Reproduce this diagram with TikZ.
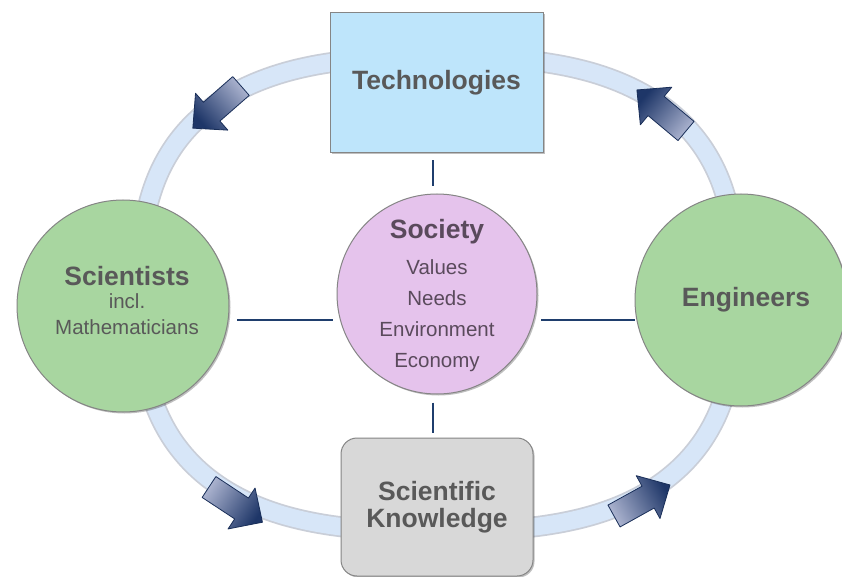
\documentclass[tikz,border=0pt]{standalone}
\usepackage{fontspec}
\setmainfont{Liberation Sans}
\usetikzlibrary{shadows}
\definecolor{techblue}{HTML}{BEE5FB}
\definecolor{skgray}{HTML}{D8D8D8}
\definecolor{greenfill}{HTML}{A8D6A0}
\definecolor{socpurple}{HTML}{E5C3EC}
\definecolor{txtgray}{HTML}{595959}
\definecolor{soctxt}{HTML}{5A4A5C}
\definecolor{navy}{HTML}{1F3E6D}
\definecolor{ringfill}{HTML}{D7E6F8}
\definecolor{ringedge}{HTML}{C9CED8}
\definecolor{edgegray}{HTML}{858585}
\definecolor{arrowlight}{HTML}{ABB3CF}
\definecolor{arrowdark}{HTML}{1E3668}
\tikzset{
  shp/.style={draw=edgegray, line width=1pt, drop shadow={shadow xshift=1.5pt, shadow yshift=-1.5pt, opacity=0.25, fill=black}},
  circ/.style={circle, shp, inner sep=0pt, minimum size=#1},
  title/.style={text=txtgray, font=\fontsize{26.5}{27.5}\selectfont\bfseries, align=center},
  sub/.style={font=\fontsize{20.5}{26}\selectfont, align=center},
  conn/.style={draw=navy, line width=2.8pt},
  arrowbody/.style={left color=arrowlight, right color=arrowdark, draw=arrowdark!85!black, line width=0.8pt, line join=round}
}
\newcommand\blockarr[3]{%
  \pgfmathsetmacro\shang{#3+90}%
  \begin{scope}[shift={(#1,#2)}, rotate=#3]
    \shade[arrowbody, shading angle=\shang] (0pt,-12.5pt) -- (39pt,-12.5pt) -- (39pt,-24.5pt) -- (64pt,0pt) -- (39pt,24.5pt) -- (39pt,12.5pt) -- (0pt,12.5pt) -- cycle;
  \end{scope}}
\begin{document}
\begin{tikzpicture}[x=1pt,y=-1pt]
\useasboundingbox (0,0) rectangle (842,577);
\fill[white] (0,0) rectangle (842,577);
% ring (superellipse)
\path[save path=\ringp] plot[domain=0.5:360.5, samples=181, smooth cycle, variable=\t]
  ({438 + 298*sign(cos(\t))*pow(abs(cos(\t)),0.7407)}, {294 + 237*sign(sin(\t))*pow(abs(sin(\t)),0.7407)});
\draw[use path=\ringp, ringedge, line width=21pt];
\draw[use path=\ringp, ringfill, line width=17.5pt];
% arrows
\blockarr{241}{86}{221.2}
\blockarr{686}{131}{140.1}
\blockarr{209}{487}{-33.4}
\blockarr{614}{516}{29}
% circles
\node[circ=212pt, fill=greenfill] (sci) at (123,306) {};
\node[title] (scit) at (127,276) {Scientists};
\node[sub, text=txtgray] (scis) at (127,314) {incl.\\Mathematicians};
\node[circ=212pt, fill=greenfill] (eng) at (741,300) {};
\node[title] (engt) at (746,300) {Engineers};
\node[circ=200pt, fill=socpurple] (soc) at (437,294) {};
\node[title, text=soctxt] (soct) at (437,232) {Society};
\node[sub, text=soctxt, font=\fontsize{20.5}{31}\selectfont] (socs) at (437,316) {Values\\Needs\\Environment\\Economy};
% boxes
\node[shp, fill=techblue, minimum width=213pt, minimum height=140pt, inner sep=0pt, title] (tech) at (436.5,83) {Technologies};
\node[shp, fill=skgray, rounded corners=16pt, minimum width=192pt, minimum height=138pt, inner sep=0pt, title] (sk) at (437,507) {Scientific\\Knowledge};
% connectors
\draw[conn, shorten <=7pt, shorten >=7pt] ([xshift=-3.5pt]tech.south) -- ([xshift=-4pt]soc.north);
\draw[conn, shorten <=8pt, shorten >=5pt] ([xshift=-4pt]soc.south) -- ([xshift=-4pt]sk.north);
\draw[conn, shorten <=7pt, shorten >=7pt] (soc.195) -- (soc.195 -| sci.east);
\draw[conn, shorten <=7pt] (soc.-15) -- (soc.-15 -| eng.west);
\end{tikzpicture}
\end{document}
